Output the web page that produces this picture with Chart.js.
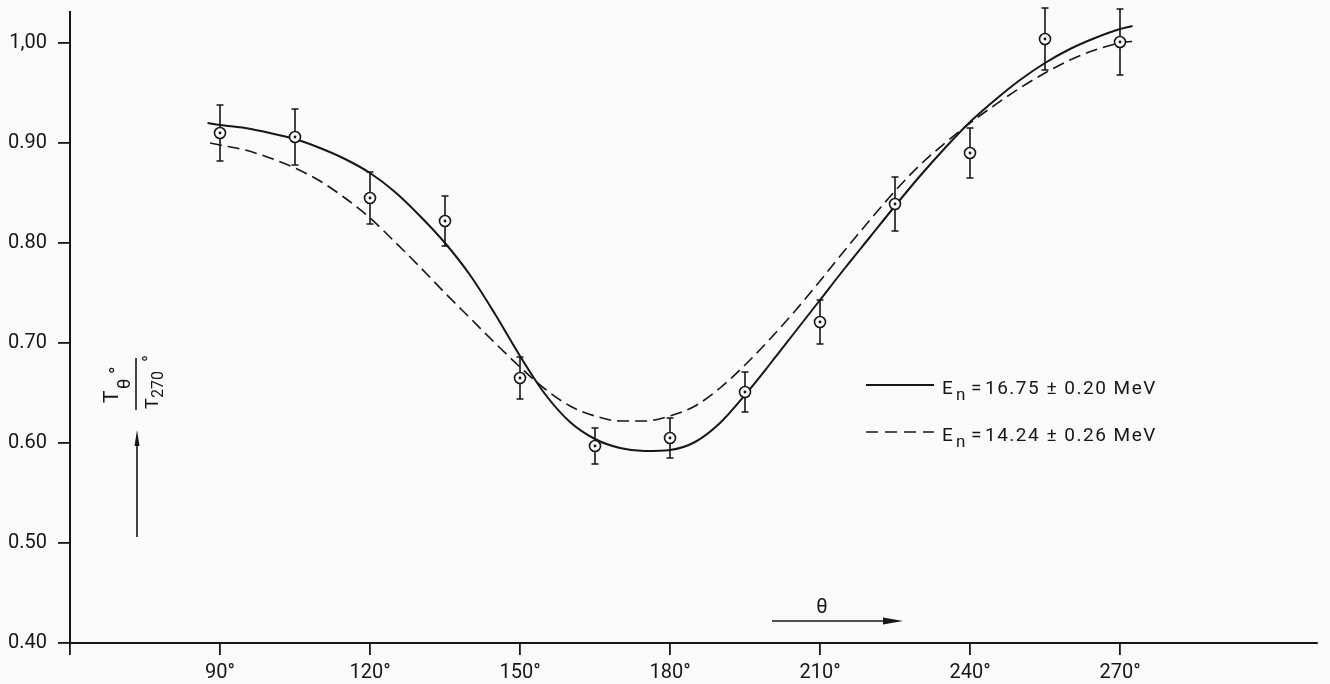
<!DOCTYPE html>
<html lang="en">
<head>
<meta charset="UTF-8">
<title>Transmission ratio vs angle</title>
<script src="https://cdn.jsdelivr.net/npm/chart.js"></script>
<style>
    body {
        margin: 0;
        background: #fafafa;
    }

    .chart-box {
        width: 1330px;
        height: 684px;
    }
</style>
</head>
<body>
<div class="chart-box"><canvas id="ratioChart"></canvas></div>

<script>
    // measured points (angle in degrees, T_theta / T_270, error)
    const angles = [90, 105, 120, 135, 150, 165, 180, 195, 210, 225, 240, 255, 270];
    const ratios = [0.910, 0.906, 0.845, 0.822, 0.665, 0.597, 0.605, 0.651, 0.721, 0.839, 0.890, 1.004, 1.001];
    const errors = [0.028, 0.028, 0.026, 0.025, 0.021, 0.018, 0.020, 0.020, 0.022, 0.027, 0.025, 0.031, 0.033];

    // fitted curve, En = 16.75 MeV (solid)
    const fitAngles1675 = [87.5, 90, 95, 100, 105, 110, 115, 120, 125, 130, 135, 140, 145, 150, 155, 160, 165, 170, 175, 180,
        185, 190, 195, 200, 205, 210, 215, 220, 225, 230, 235, 240, 245, 250, 255, 260, 265, 270, 272.5];
    const fit1675 = [0.920, 0.918, 0.915, 0.910, 0.904, 0.895, 0.884, 0.870, 0.851, 0.827, 0.800, 0.768, 0.729, 0.687, 0.649,
        0.621, 0.604, 0.595, 0.592, 0.593, 0.601, 0.620, 0.648, 0.679, 0.711, 0.743, 0.775, 0.806, 0.837, 0.867, 0.895,
        0.921, 0.943, 0.963, 0.980, 0.994, 1.005, 1.014, 1.017];

    // fitted curve, En = 14.24 MeV (dashed)
    const fitAngles1424 = [88, 90, 95, 100, 105, 110, 115, 120, 125, 130, 135, 140, 145, 150, 155, 160, 165, 170, 175, 180,
        185, 190, 195, 200, 205, 210, 215, 220, 225, 230, 235, 240, 245, 250, 255, 260, 265, 270, 273.5];
    const fit1424 = [0.900, 0.898, 0.893, 0.885, 0.875, 0.862, 0.845, 0.825, 0.801, 0.776, 0.750, 0.725, 0.700, 0.676, 0.654,
        0.637, 0.627, 0.622, 0.622, 0.627, 0.637, 0.655, 0.678, 0.704, 0.732, 0.762, 0.793, 0.823, 0.852, 0.878, 0.900,
        0.920, 0.938, 0.955, 0.970, 0.983, 0.993, 1.000, 1.002];

    const xTicks = [60, 90, 120, 150, 180, 210, 240, 270];
    const yTicks = [0.4, 0.5, 0.6, 0.7, 0.8, 0.9, 1.0];
    const legendLabels = ['16.75 \u00b1 0.20 MeV', '14.24 \u00b1 0.26 MeV'];

    const ink = '#161616';
    const fontFamily = 'Roboto, "Liberation Sans", sans-serif';

    const toPoints = (xs, ys) => xs.map((v, i) => ({ x: v, y: ys[i] }));

    // error bars, centre dots, legend and the hand-drawn axis titles
    const extras = {
        id: 'extras',
        beforeDatasetsDraw(chart) {
            const { ctx, scales: { x, y } } = chart;
            ctx.save();
            ctx.strokeStyle = ink;
            ctx.lineWidth = 1.6;
            angles.forEach((a, i) => {
                const px = x.getPixelForValue(a);
                const top = y.getPixelForValue(ratios[i] + errors[i]);
                const bot = y.getPixelForValue(ratios[i] - errors[i]);
                ctx.beginPath();
                ctx.moveTo(px, top);
                ctx.lineTo(px, bot);
                ctx.moveTo(px - 3.5, top);
                ctx.lineTo(px + 3.5, top);
                ctx.moveTo(px - 3.5, bot);
                ctx.lineTo(px + 3.5, bot);
                ctx.stroke();
            });
            ctx.restore();
        },
        afterDatasetsDraw(chart) {
            const { ctx, scales: { x, y } } = chart;
            ctx.save();
            ctx.fillStyle = ink;
            angles.forEach((a, i) => {
                ctx.beginPath();
                ctx.arc(x.getPixelForValue(a), y.getPixelForValue(ratios[i]), 1.4, 0, Math.PI * 2);
                ctx.fill();
            });
            ctx.restore();
        },
        afterDraw(chart) {
            const ctx = chart.ctx;
            ctx.save();
            ctx.strokeStyle = ink;
            ctx.fillStyle = ink;
            ctx.textBaseline = 'alphabetic';

            // legend
            const rows = [{ y: 385, dash: [], width: 2 }, { y: 432, dash: [12, 7], width: 1.6 }];
            rows.forEach((row, i) => {
                ctx.setLineDash(row.dash);
                ctx.lineWidth = row.width;
                ctx.beginPath();
                ctx.moveTo(866, row.y);
                ctx.lineTo(934, row.y);
                ctx.stroke();
                ctx.setLineDash([]);
                const base = row.y + 9;
                ctx.font = '19px ' + fontFamily;
                ctx.fillText('E', 942, base);
                ctx.font = '17px ' + fontFamily;
                ctx.fillText('n', 956, base + 6);
                ctx.font = '19px ' + fontFamily;
                ctx.fillText('=', 971, base);
                ctx.letterSpacing = '1.5px';
                ctx.fillText(legendLabels[i], 985, base);
                ctx.letterSpacing = '0px';
            });

            // y title: T_theta / T_270, rotated
            ctx.save();
            ctx.translate(136, 383);
            ctx.rotate(-Math.PI / 2);
            ctx.lineWidth = 1.6;
            ctx.beginPath();
            ctx.moveTo(-27, 0);
            ctx.lineTo(25, 0);
            ctx.stroke();
            ctx.font = '21px ' + fontFamily;
            ctx.fillText('T', -20, -18);
            ctx.font = '18px ' + fontFamily;
            ctx.fillText('\u03b8', -6, -6);
            ctx.font = '20px ' + fontFamily;
            ctx.fillText('\u00b0', 9, -12);
            ctx.font = '18px ' + fontFamily;
            ctx.fillText('T', -26, 22);
            ctx.font = '16px ' + fontFamily;
            ctx.fillText('270', -15, 27);
            ctx.font = '19px ' + fontFamily;
            ctx.fillText('\u00b0', 21, 20);
            ctx.restore();

            // upward arrow under y title
            ctx.lineWidth = 1.6;
            ctx.beginPath();
            ctx.moveTo(137, 537);
            ctx.lineTo(137, 440);
            ctx.stroke();
            ctx.beginPath();
            ctx.moveTo(137, 430);
            ctx.lineTo(134.5, 446);
            ctx.lineTo(139.5, 446);
            ctx.closePath();
            ctx.fill();

            // theta with right arrow
            ctx.font = '20px ' + fontFamily;
            ctx.textAlign = 'center';
            ctx.fillText('\u03b8', 822, 613);
            ctx.beginPath();
            ctx.moveTo(772, 621);
            ctx.lineTo(890, 621);
            ctx.stroke();
            ctx.beginPath();
            ctx.moveTo(903, 621);
            ctx.lineTo(883, 617.5);
            ctx.lineTo(883, 624.5);
            ctx.closePath();
            ctx.fill();
            ctx.restore();
        }
    };

    const ctx = document.getElementById('ratioChart').getContext('2d');
    new Chart(ctx, {
        type: 'scatter',
        data: {
            datasets: [
                {
                    label: 'measured',
                    data: toPoints(angles, ratios),
                    pointRadius: 5.5,
                    pointBorderWidth: 1.6,
                    pointBorderColor: ink,
                    pointBackgroundColor: '#fafafa',
                    showLine: false
                },
                {
                    label: 'En = 16.75 MeV',
                    data: toPoints(fitAngles1675, fit1675),
                    showLine: true,
                    borderColor: ink,
                    borderWidth: 2,
                    pointRadius: 0,
                    cubicInterpolationMode: 'monotone'
                },
                {
                    label: 'En = 14.24 MeV',
                    data: toPoints(fitAngles1424, fit1424),
                    showLine: true,
                    borderColor: ink,
                    borderWidth: 1.6,
                    borderDash: [12, 6],
                    pointRadius: 0,
                    cubicInterpolationMode: 'monotone'
                }
            ]
        },
        options: {
            responsive: true,
            maintainAspectRatio: false,
            animation: false,
            layout: { padding: { top: 12, right: 13, left: 0, bottom: 0 } },
            plugins: {
                legend: { display: false },
                tooltip: { enabled: false }
            },
            scales: {
                x: {
                    type: 'linear',
                    min: 60,
                    max: 309.4,
                    afterBuildTicks: scale => { scale.ticks = xTicks.map(v => ({ value: v })); },
                    afterFit: scale => {
                        scale.height = 41;
                        scale.paddingLeft = 0;
                        scale.paddingRight = 0;
                    },
                    grid: { drawOnChartArea: false, tickLength: 12, color: ink, lineWidth: 1.8 },
                    border: { color: ink, width: 2 },
                    ticks: {
                        color: ink,
                        font: { family: fontFamily, size: 20 },
                        padding: 6,
                        maxRotation: 0,
                        autoSkip: false,
                        callback: v => (v === 60 ? '' : v + '\u00b0')
                    }
                },
                y: {
                    min: 0.4,
                    max: 1.031,
                    afterBuildTicks: scale => { scale.ticks = yTicks.map(v => ({ value: v })); },
                    afterFit: scale => {
                        scale.width = 70;
                        scale.paddingTop = 0;
                        scale.paddingBottom = 0;
                    },
                    grid: { drawOnChartArea: false, tickLength: 12, color: ink, lineWidth: 1.8 },
                    border: { color: ink, width: 2 },
                    ticks: {
                        color: ink,
                        font: { family: fontFamily, size: 20 },
                        padding: 11,
                        autoSkip: false,
                        callback: v => (v === 1 ? '1,00' : v.toFixed(2))
                    }
                }
            }
        },
        plugins: [extras]
    });
</script>
</body>
</html>
